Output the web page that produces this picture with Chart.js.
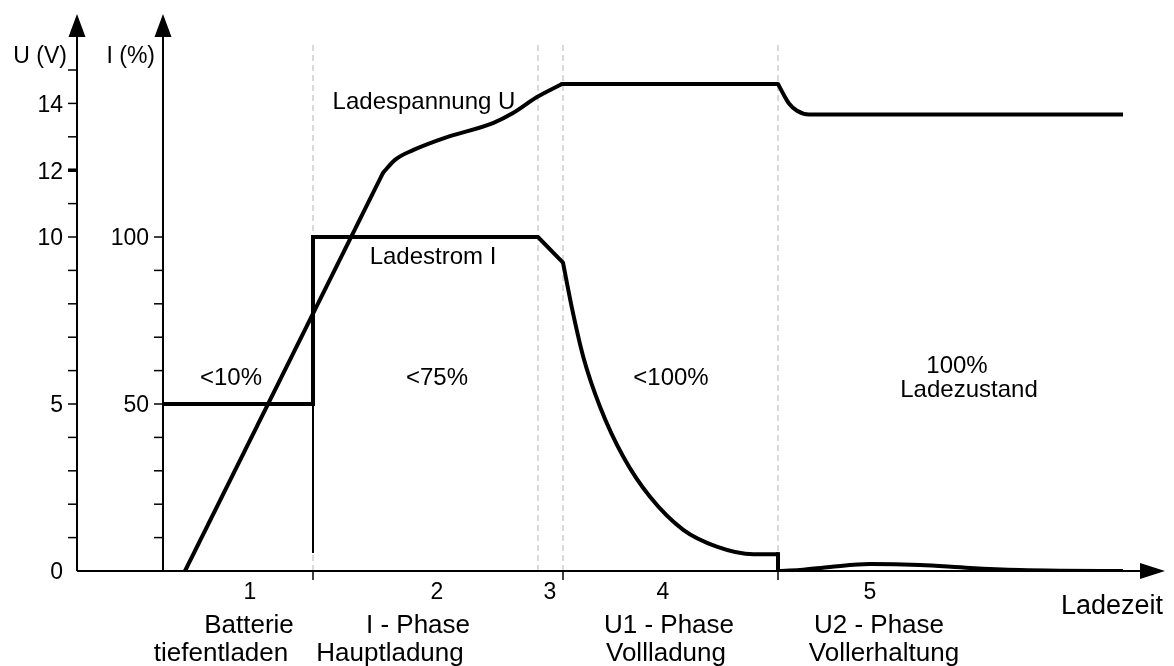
<!DOCTYPE html>
<html lang="de">
<head>
<meta charset="utf-8">
<title>Ladekennlinie</title>
<script src="https://cdn.jsdelivr.net/npm/chart.js@4.4.1/dist/chart.umd.min.js"></script>
<style>
  html, body { margin: 0; padding: 0; background: #fff; }
  #wrap { width: 1174px; height: 666px; }
</style>
</head>
<body>
<div id="wrap"><canvas id="ladeChart" width="1174" height="666"></canvas></div>
<script>
// DATEN: Ladespannung U (V) über der Ladezeit
const spannungAnstiegZeit = [2.2, 22];
const spannungAnstiegWert = [0, 11.92];
const spannungBogenZeit = [22, 23.2, 25, 28.4, 33, 35, 37.4, 39.9];
const spannungBogenWert = [11.92, 12.31, 12.6, 12.99, 13.41, 13.71, 14.19, 14.58];
const spannungHaltZeit = [39.9, 61.5];
const spannungHaltWert = [14.58, 14.58];
const spannungAbsenkZeit = [61.5, 62.0, 62.6, 63.4, 64.6, 96];
const spannungAbsenkWert = [14.58, 14.3, 14.0, 13.78, 13.67, 13.67];

// DATEN: Ladestrom I (%)
const stromStufeZeit = [0, 15, 15, 37.5, 40];
const stromStufeWert = [50, 50, 100, 100, 92.3];
const stromAbfallZeit = [40, 40.87, 42.03, 43.7, 46.03, 48.7, 52.03, 55.37, 59.03, 61.5];
const stromAbfallWert = [92.3, 79.1, 64.1, 49.2, 34.2, 22.2, 12.3, 7.3, 5.0, 5.0];
const stromSprungZeit = [61.5, 61.5];
const stromSprungWert = [5.0, 0];
const stromErhaltZeit = [61.5, 63.7, 66.7, 70.7, 75.7, 80.7, 85.7, 89.7, 96];
const stromErhaltWert = [0, 0.3, 1.2, 2.1, 1.8, 0.9, 0.3, 0.1, 0];
const hilfslinieZeit = [15, 15];
const hilfslinieWert = [50, 5.4];

// PHASENGRENZEN UND ACHSENBESCHRIFTUNG
const phasenGrenzen = [15, 37.5, 40, 61.5];
const achsenMarken = [15, 40, 61.5];
const uLabels = [0, 5, 10, 12, 14];
const iLabels = [50, 100];
const phasenNummern = ['1', '2', '3', '4', '5'];
const phasenTexte = [['Batterie', 'tiefentladen'], ['I - Phase', 'Hauptladung'], [], ['U1 - Phase', 'Vollladung'], ['U2 - Phase', 'Vollerhaltung']];

const FONT = '"Liberation Sans", Arial, sans-serif';
const zip = (xs, ys) => xs.map((v, i) => ({ x: v, y: ys[i] }));

function linie(data, axis, extra) {
    return Object.assign({
        data: data, yAxisID: axis, borderColor: '#000', borderWidth: 4,
        pointRadius: 0, tension: 0, borderJoinStyle: 'miter', borderCapStyle: 'round', fill: false, order: 1
    }, extra || {});
}

const datasets = [
    linie(zip(spannungAnstiegZeit, spannungAnstiegWert), 'yU', { borderCapStyle: 'butt' }),
    linie(zip(spannungBogenZeit, spannungBogenWert), 'yU', { cubicInterpolationMode: 'monotone' }),
    linie(zip(spannungHaltZeit, spannungHaltWert), 'yU'),
    linie(zip(spannungAbsenkZeit, spannungAbsenkWert), 'yU', { cubicInterpolationMode: 'monotone', borderCapStyle: 'butt' }),
    linie(zip(stromStufeZeit, stromStufeWert), 'yI', { borderCapStyle: 'butt' }),
    linie(zip(stromAbfallZeit, stromAbfallWert), 'yI', { cubicInterpolationMode: 'monotone' }),
    linie(zip(stromSprungZeit, stromSprungWert), 'yI', { borderCapStyle: 'square' }),
    linie(zip(stromErhaltZeit, stromErhaltWert), 'yI', { cubicInterpolationMode: 'monotone', borderCapStyle: 'butt' }),
    linie(zip(hilfslinieZeit, hilfslinieWert), 'yI', { borderWidth: 2, borderCapStyle: 'butt' })
];
phasenGrenzen.forEach(g => {
    datasets.push(linie([{ x: g, y: 0 }, { x: g, y: 15.75 }], 'yU', { borderColor: '#b4b4b4', borderWidth: 1, borderDash: [6, 4], borderCapStyle: 'butt', order: 5 }));
});

// ACHSEN, PFEILE UND TEXTE
const achsenPlugin = {
    id: 'achsen',
    afterDraw(chart) {
        const { ctx, chartArea: a, scales } = chart;
        const x = scales.x, yU = scales.yU, yI = scales.yI;
        const x0 = a.left, xI = x.getPixelForValue(0), y0 = yU.getPixelForValue(0);
        const strich = (x1, y1, x2, y2) => { ctx.beginPath(); ctx.moveTo(x1, y1); ctx.lineTo(x2, y2); ctx.stroke(); };
        const dreieck = (p) => { ctx.beginPath(); ctx.moveTo(p[0], p[1]); ctx.lineTo(p[2], p[3]); ctx.lineTo(p[4], p[5]); ctx.closePath(); ctx.fill(); };
        ctx.save();
        ctx.strokeStyle = '#000';
        ctx.fillStyle = '#000';
        ctx.lineWidth = 2;
        strich(x0, y0, x0, a.top + 20);
        strich(xI, y0, xI, a.top + 20);
        strich(x0, y0, a.right - 20, y0);
        dreieck([x0, a.top, x0 - 8.5, a.top + 23, x0 + 8.5, a.top + 23]);
        dreieck([xI, a.top, xI - 8.5, a.top + 23, xI + 8.5, a.top + 23]);
        dreieck([a.right, y0, a.right - 25, y0 - 8, a.right - 25, y0 + 8]);

        for (let v = 1; v <= 15; v++) {
            const py = yU.getPixelForValue(v);
            ctx.lineWidth = v === 12 ? 3.5 : 1.5;
            strich(x0 - 9, py, x0, py);
        }
        ctx.lineWidth = 1.5;
        for (let v = 10; v <= 100; v += 10) {
            const py = yI.getPixelForValue(v);
            strich(xI - 9, py, xI, py);
        }
        achsenMarken.forEach(t => { const px = x.getPixelForValue(t); strich(px, y0, px, y0 + 9); });

        ctx.textAlign = 'right';
        ctx.textBaseline = 'alphabetic';
        ctx.font = '23px ' + FONT;
        uLabels.forEach(v => ctx.fillText(String(v), x0 - 14, yU.getPixelForValue(v) + 8.3));
        iLabels.forEach(v => ctx.fillText(String(v), xI - 14, yI.getPixelForValue(v) + 8.3));
        ctx.fillText('U (V)', x0 - 10, 63);
        ctx.fillText('I (%)', xI - 8, 63);

        ctx.textAlign = 'center';
        ctx.font = '24px ' + FONT;
        const txt = (s, t, by) => ctx.fillText(s, x.getPixelForValue(t), by);
        txt('Ladespannung U', 26.1, 109);
        txt('Ladestrom I', 27.0, 264);
        txt('<10%', 6.8, 385);
        txt('<75%', 27.4, 385);
        txt('<100%', 50.8, 385);
        txt('100%', 79.4, 373);
        txt('Ladezustand', 80.6, 397);

        ctx.font = '23px ' + FONT;
        const nrPos = [8.7, 27.4, 38.7, 50.0, 70.7];
        phasenNummern.forEach((n, i) => txt(n, nrPos[i], 599));
        ctx.font = '26px ' + FONT;
        const zeilePos = [[8.6, 5.8], [25.5, 22.7], [], [50.6, 50.3], [71.6, 72.1]];
        phasenTexte.forEach((zeilen, i) => {
            zeilen.forEach((z, j) => txt(z, zeilePos[i][j], 633 + j * 28));
        });
        ctx.textAlign = 'right';
        ctx.font = '27px ' + FONT;
        ctx.fillText('Ladezeit', a.right - 2, 614);
        ctx.restore();
    }
};

const ctx = document.getElementById('ladeChart').getContext('2d');
new Chart(ctx, {
    type: 'line',
    data: { datasets: datasets },
    options: {
        responsive: false,
        animation: false,
        devicePixelRatio: 1,
        layout: { padding: { left: 77, right: 9, top: 14, bottom: 95 } },
        plugins: { legend: { display: false }, tooltip: { enabled: false }, title: { display: false } },
        scales: {
            x: { type: 'linear', min: -8.6, max: 100.2, display: false },
            yU: { type: 'linear', position: 'left', min: 0, max: 16.677, display: false },
            yI: { type: 'linear', position: 'left', min: 0, max: 166.77, display: false }
        }
    },
    plugins: [achsenPlugin]
});
</script>
</body>
</html>
